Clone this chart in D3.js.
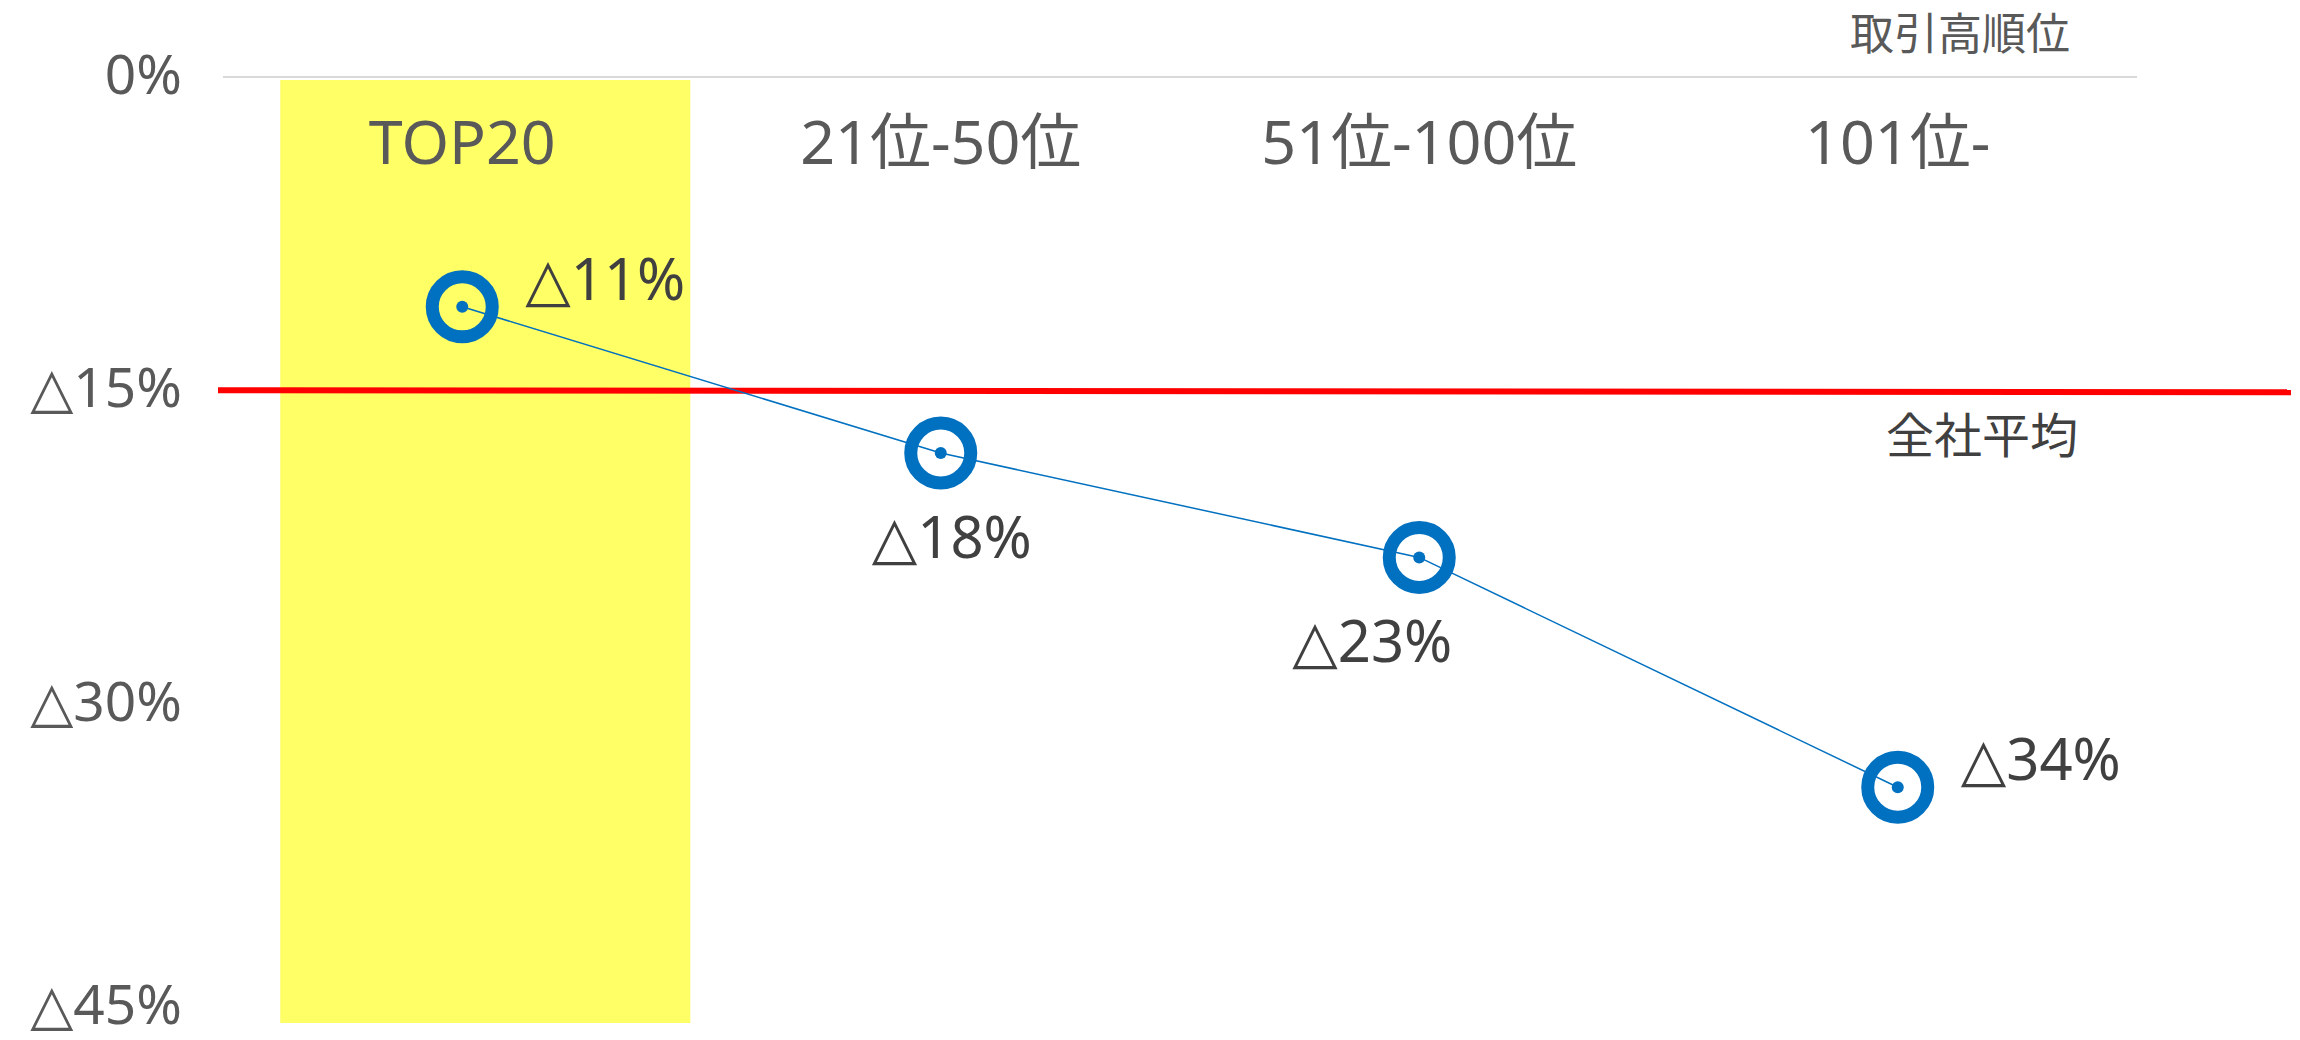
<!DOCTYPE html>
<html>
<head>
<meta charset="utf-8">
<script src="https://cdn.jsdelivr.net/npm/d3@7"></script>
<style>
    html, body { margin: 0; padding: 0; background: #ffffff; }
    text { font-family: "Noto Sans", "Noto Sans CJK JP", sans-serif; }
</style>
</head>
<body>
<svg id="chart"></svg>
<script>
"use strict";

// ranks by trading volume
const categories = ["TOP20", "21位-50位", "51位-100位", "101位-"];
// change rate per group (negative = decrease)
const changeRates = [-0.11, -0.18, -0.23, -0.34];
const highlightValues = [-0.45, null, null, null];
const companyAverage = -0.15;
const yTicks = [0, -0.15, -0.30, -0.45];
const labelSides = ["right", "below", "below", "right"];

const WIDTH = 2300;
const HEIGHT = 1040;
const plot = { left: 223, right: 2137, top: 77, bottom: 1017 };

function formatPct(v) {
    const pct = Math.round(Math.abs(v) * 100);
    return v < 0 ? `△${pct}%` : `${pct}%`;
}

// put the triangle in a narrower font, like the original
function writeWithTriangle(selection, getText) {
    selection.each(function (d) {
        const el = d3.select(this);
        const str = getText(d);
        el.text(null);
        if (str.startsWith("△")) {
            el.append("tspan")
                .style("font-family", "\"DejaVu Sans\", sans-serif")
                .attr("font-size", "1.02em")
                .text("△");
            el.append("tspan").text(str.slice(1));
        } else {
            el.append("tspan").text(str);
        }
    });
}

function main() {
    const svg = d3.select("#chart")
        .attr("width", WIDTH)
        .attr("height", HEIGHT);

    const x = d3.scaleBand()
        .domain(categories)
        .range([plot.left, plot.right])
        .padding(0);

    // the highlight bar sits on a secondary category axis, shifted a little
    const xBar = d3.scaleBand()
        .domain(categories)
        .range([plot.left + 23, plot.right + 23])
        .paddingInner(0.143)
        .paddingOuter(0.0715);

    const y = d3.scaleLinear()
        .domain([0, -0.45])
        .range([plot.top, plot.bottom]);

    // highlight bar
    svg.append("g")
        .selectAll("rect")
        .data(categories.map((c, i) => ({ c, v: highlightValues[i] })).filter(d => d.v !== null))
        .join("rect")
        .attr("x", d => xBar(d.c))
        .attr("width", xBar.bandwidth())
        .attr("y", d => y(0) + 3)
        .attr("height", d => y(d.v) - y(0) + 3)
        .attr("fill", "#FFFF66");

    // zero line
    svg.append("line")
        .attr("x1", plot.left)
        .attr("x2", plot.right)
        .attr("y1", y(0))
        .attr("y2", y(0))
        .attr("stroke", "#D9D9D9")
        .attr("stroke-width", 2);

    // y axis labels
    const yAxis = d3.axisLeft(y)
        .tickValues(yTicks)
        .tickSize(0)
        .tickPadding(41);
    const yAxisG = svg.append("g")
        .attr("transform", `translate(${plot.left},0)`)
        .call(yAxis);
    yAxisG.select(".domain").remove();
    yAxisG.selectAll("text")
        .attr("font-size", 55)
        .attr("fill", "#595959")
        .attr("dy", "0.3em")
        .style("font-family", "\"Noto Sans\", \"Noto Sans CJK JP\", sans-serif")
        .call(writeWithTriangle, formatPct);

    // keep the bottom tick label inside the page
    yAxisG.selectAll(".tick").each(function (d) {
        const text = d3.select(this).select("text");
        const box = this.getBBox();
        const overflow = y(d) + box.y + box.height - (HEIGHT - 1);
        if (overflow > 0) {
            text.attr("y", -overflow);
        }
    });

    // category labels
    svg.append("g")
        .selectAll("text")
        .data(categories)
        .join("text")
        .attr("x", d => x(d) + x.bandwidth() / 2)
        .attr("y", 164)
        .attr("text-anchor", "middle")
        .attr("font-size", 61)
        .attr("fill", "#595959")
        .text(d => d);

    // axis title
    svg.append("text")
        .attr("x", 1960)
        .attr("y", 50)
        .attr("text-anchor", "middle")
        .attr("font-size", 44)
        .attr("fill", "#595959")
        .text("取引高順位");

    // company average line
    svg.append("line")
        .attr("x1", plot.left - 5)
        .attr("x2", WIDTH - 9)
        .attr("y1", y(companyAverage))
        .attr("y2", y(companyAverage) + 2)
        .attr("stroke", "#FF0000")
        .attr("stroke-width", 6);

    svg.append("text")
        .attr("x", 1982)
        .attr("y", y(companyAverage) + 63)
        .attr("text-anchor", "middle")
        .attr("font-size", 48)
        .attr("fill", "#404040")
        .text("全社平均");

    // series line
    const points = categories.map((c, i) => ({ c, v: changeRates[i], side: labelSides[i] }));
    const cx = d => x(d.c) + x.bandwidth() / 2;

    svg.append("path")
        .datum(points)
        .attr("fill", "none")
        .attr("stroke", "#0070C0")
        .attr("stroke-width", 1.5)
        .attr("d", d3.line().x(cx).y(d => y(d.v)));

    const markers = svg.append("g")
        .selectAll("g")
        .data(points)
        .join("g")
        .attr("transform", d => `translate(${cx(d)},${y(d.v)})`);

    markers.append("circle")
        .attr("r", 30)
        .attr("fill", "none")
        .attr("stroke", "#0070C0")
        .attr("stroke-width", 13);

    markers.append("circle")
        .attr("r", 6)
        .attr("fill", "#0070C0");

    // data labels
    svg.append("g")
        .selectAll("text")
        .data(points)
        .join("text")
        .attr("x", d => d.side === "right" ? cx(d) + 63 : cx(d) + (d.v < -0.2 ? -47 : 11))
        .attr("y", d => d.side === "right" ? y(d.v) - 7 : y(d.v) + 105)
        .attr("text-anchor", d => d.side === "right" ? "start" : "middle")
        .attr("font-size", 58)
        .attr("fill", "#404040")
        .call(writeWithTriangle, d => formatPct(d.v));
}

main();
</script>
</body>
</html>
